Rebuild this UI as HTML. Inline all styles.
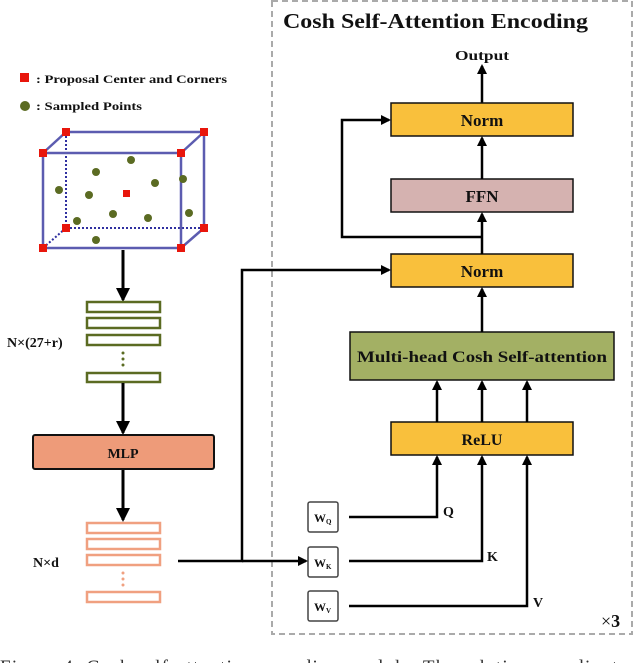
<!DOCTYPE html>
<html><head><meta charset="utf-8"><style>
html,body{margin:0;padding:0;background:#fff;width:640px;height:663px;overflow:hidden}
svg{display:block}
text{font-family:"Liberation Serif",serif;font-weight:bold;fill:#111}
</style></head><body>
<svg width="640" height="663" viewBox="0 0 640 663" xmlns="http://www.w3.org/2000/svg">
<defs>
<marker id="a" markerWidth="10" markerHeight="10" refX="8" refY="5" orient="auto" markerUnits="userSpaceOnUse">
<path d="M0,0 L10,5 L0,10 z" fill="#000"/></marker>
<marker id="b" markerWidth="14" markerHeight="14" refX="12" refY="7" orient="auto" markerUnits="userSpaceOnUse">
<path d="M0,0 L14,7 L0,14 z" fill="#000"/></marker>
</defs>
<rect x="272" y="1" width="360" height="633" fill="none" stroke="#aaa" stroke-width="2" stroke-dasharray="6,4"/>
<text x="283" y="28" font-size="21" textLength="305" lengthAdjust="spacingAndGlyphs">Cosh Self-Attention Encoding</text>
<text x="455" y="60" font-size="14" textLength="54" lengthAdjust="spacingAndGlyphs">Output</text>
<line x1="482" y1="103" x2="482" y2="66" stroke="#000" stroke-width="2.5" marker-end="url(#a)"/>
<rect x="391" y="103" width="182" height="33" fill="#f9c03c" stroke="#111" stroke-width="1.5"/>
<text x="482" y="126" font-size="17" text-anchor="middle">Norm</text>
<rect x="391" y="179" width="182" height="33" fill="#d5b2b0" stroke="#111" stroke-width="1.5"/>
<text x="482" y="202" font-size="17" text-anchor="middle">FFN</text>
<rect x="391" y="254" width="182" height="33" fill="#f9c03c" stroke="#111" stroke-width="1.5"/>
<text x="482" y="277" font-size="17" text-anchor="middle">Norm</text>
<rect x="350" y="332" width="264" height="48" fill="#a3b064" stroke="#111" stroke-width="1.5"/>
<text x="357" y="362" font-size="16" textLength="250" lengthAdjust="spacingAndGlyphs">Multi-head Cosh Self-attention</text>
<rect x="391" y="422" width="182" height="33" fill="#f9c03c" stroke="#111" stroke-width="1.5"/>
<text x="482" y="445" font-size="16" text-anchor="middle">ReLU</text>
<line x1="482" y1="179" x2="482" y2="138" stroke="#000" stroke-width="2.5" marker-end="url(#a)"/>
<line x1="482" y1="254" x2="482" y2="214" stroke="#000" stroke-width="2.5" marker-end="url(#a)"/>
<polyline points="482,237 342,237 342,120 389,120" fill="none" stroke="#000" stroke-width="2.5" marker-end="url(#a)"/>
<line x1="482" y1="332" x2="482" y2="289" stroke="#000" stroke-width="2.5" marker-end="url(#a)"/>
<line x1="437" y1="422" x2="437" y2="382" stroke="#000" stroke-width="2.5" marker-end="url(#a)"/>
<line x1="482" y1="422" x2="482" y2="382" stroke="#000" stroke-width="2.5" marker-end="url(#a)"/>
<line x1="527" y1="422" x2="527" y2="382" stroke="#000" stroke-width="2.5" marker-end="url(#a)"/>
<polyline points="349,517 437,517 437,457" fill="none" stroke="#000" stroke-width="2.5" marker-end="url(#a)"/>
<polyline points="349,561 482,561 482,457" fill="none" stroke="#000" stroke-width="2.5" marker-end="url(#a)"/>
<polyline points="349,606 527,606 527,457" fill="none" stroke="#000" stroke-width="2.5" marker-end="url(#a)"/>
<text x="443" y="516" font-size="14">Q</text>
<text x="487" y="561" font-size="14">K</text>
<text x="533" y="607" font-size="14">V</text>
<text x="601" y="627" font-size="18" style="font-weight:normal">×<tspan style="font-weight:bold">3</tspan></text>
<g fill="#fff" stroke="#444" stroke-width="1.5">
<rect x="308" y="502" width="30" height="30" rx="2"/>
<rect x="308" y="547" width="30" height="30" rx="2"/>
<rect x="308" y="591" width="30" height="30" rx="2"/>
</g>
<text x="314" y="522" font-size="12">W<tspan font-size="7" dy="2">Q</tspan></text>
<text x="314" y="567" font-size="12">W<tspan font-size="7" dy="2">K</tspan></text>
<text x="314" y="611" font-size="12">W<tspan font-size="7" dy="2">V</tspan></text>
<polyline points="178,561 242,561 242,270 389,270" fill="none" stroke="#000" stroke-width="2.5" marker-end="url(#a)"/>
<line x1="242" y1="561" x2="306" y2="561" stroke="#000" stroke-width="2.5" marker-end="url(#a)"/>
<rect x="20" y="73" width="9" height="9" fill="#e8160c"/>
<text x="36" y="83" font-size="12" textLength="191" lengthAdjust="spacingAndGlyphs">: Proposal Center and Corners</text>
<circle cx="25" cy="106" r="5" fill="#5b6b22"/>
<text x="36" y="110" font-size="12" textLength="106" lengthAdjust="spacingAndGlyphs">: Sampled Points</text>
<g stroke="#5c5cb0" fill="none">
<line x1="66" y1="132" x2="66" y2="228" stroke-width="2" stroke-dasharray="2,2" stroke="#3030a0"/>
<line x1="66" y1="228" x2="204" y2="228" stroke-width="2" stroke-dasharray="2,2" stroke="#3030a0"/>
<line x1="43" y1="248" x2="66" y2="228" stroke-width="2" stroke-dasharray="2,2" stroke="#3030a0"/>
<line x1="66" y1="132" x2="204" y2="132" stroke-width="2.5"/>
<line x1="204" y1="132" x2="204" y2="228" stroke-width="2.5"/>
<line x1="43" y1="153" x2="66" y2="132" stroke-width="2.5"/>
<line x1="181" y1="153" x2="204" y2="132" stroke-width="2.5"/>
<line x1="181" y1="248" x2="204" y2="228" stroke-width="2.5"/>
<rect x="43" y="153" width="138" height="95" stroke-width="2.5"/>
</g>
<g fill="#e8160c">
<rect x="39" y="149" width="8" height="8"/><rect x="177" y="149" width="8" height="8"/>
<rect x="62" y="128" width="8" height="8"/><rect x="200" y="128" width="8" height="8"/>
<rect x="39" y="244" width="8" height="8"/><rect x="177" y="244" width="8" height="8"/>
<rect x="62" y="224" width="8" height="8"/><rect x="200" y="224" width="8" height="8"/>
<rect x="123" y="190" width="7" height="7"/>
</g>
<g fill="#5b6b22">
<circle cx="131" cy="160" r="4"/><circle cx="96" cy="172" r="4"/><circle cx="155" cy="183" r="4"/>
<circle cx="59" cy="190" r="4"/><circle cx="89" cy="195" r="4"/><circle cx="113" cy="214" r="4"/>
<circle cx="148" cy="218" r="4"/><circle cx="77" cy="221" r="4"/><circle cx="96" cy="240" r="4"/>
<circle cx="183" cy="179" r="4"/><circle cx="189" cy="213" r="4"/>
</g>
<line x1="123" y1="250" x2="123" y2="300" stroke="#000" stroke-width="3" marker-end="url(#b)"/>
<g fill="#fff" stroke="#5b6b22" stroke-width="2.5">
<rect x="87" y="302" width="73" height="10"/><rect x="87" y="318" width="73" height="10"/>
<rect x="87" y="335" width="73" height="10"/><rect x="87" y="373" width="73" height="9"/>
</g>
<g fill="#5b6b22"><circle cx="123" cy="353" r="1.5"/><circle cx="123" cy="359" r="1.5"/><circle cx="123" cy="365" r="1.5"/></g>
<text x="7" y="347" font-size="14">N×(27+r)</text>
<line x1="123" y1="383" x2="123" y2="433" stroke="#000" stroke-width="3" marker-end="url(#b)"/>
<rect x="33" y="435" width="181" height="34" fill="#ee9b79" stroke="#111" stroke-width="2" rx="2"/>
<text x="123" y="458" font-size="14" text-anchor="middle">MLP</text>
<line x1="123" y1="470" x2="123" y2="520" stroke="#000" stroke-width="3" marker-end="url(#b)"/>
<g fill="#fff" stroke="#f0a080" stroke-width="2.5">
<rect x="87" y="523" width="73" height="10"/><rect x="87" y="539" width="73" height="10"/>
<rect x="87" y="555" width="73" height="10"/><rect x="87" y="592" width="73" height="10"/>
</g>
<g fill="#f0a080"><circle cx="123" cy="573" r="1.5"/><circle cx="123" cy="579" r="1.5"/><circle cx="123" cy="585" r="1.5"/></g>
<text x="33" y="567" font-size="14">N×d</text>
<text x="0" y="673" font-size="19" textLength="660" lengthAdjust="spacing" style="font-weight:normal;fill:#333">Figure 4:  Cosh self-attention encoding module.  The relative coordinates of</text>
</svg>
</body></html>
